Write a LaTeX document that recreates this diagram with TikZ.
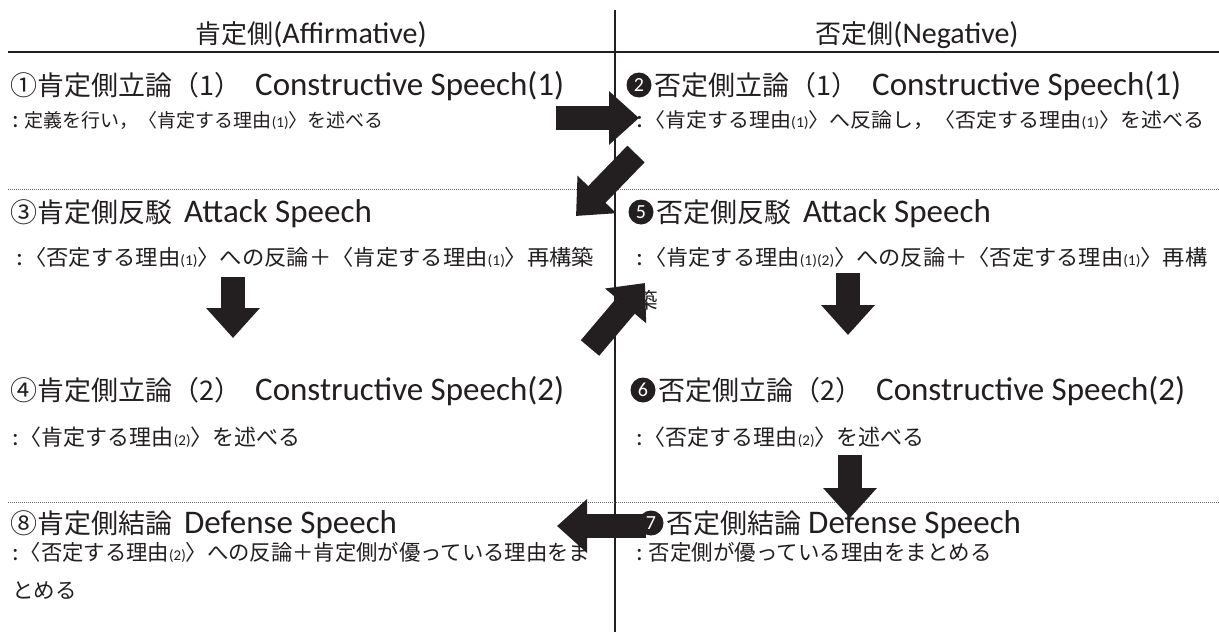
\documentclass[tikz,border=0pt]{standalone}
\usepackage{fontspec}
\setmainfont{Carlito}
\newfontfamily\jpfont{Noto Sans CJK JP}
\newfontfamily\latfont{Carlito}
\usetikzlibrary{arrows.meta}
\definecolor{ink}{HTML}{231F20}
\newcommand\jtext[2]{{\jpfont\fontsize{#1}{#1}\selectfont #2}}
\newcommand\ltext[2]{{\latfont\fontsize{#1}{#1}\selectfont #2}}
\newcommand\ttl[2]{\jtext{27}{#1}\hspace{14pt}\ltext{33}{#2}}
\newcommand\sm[1]{\ltext{15}{#1}}
\newcommand\cln{\ltext{25}{:}\hspace{1pt}}
\newcommand\fitw[2]{\resizebox{#1}{\height}{#2}}
\begin{document}
\begin{tikzpicture}[x=1pt,y=-1pt,
  txt/.style={anchor=base west, inner sep=0pt, text=ink},
  hdr/.style={anchor=base, inner sep=0pt, text=ink},
  numc/.style={circle, fill=ink, text=white, minimum size=25pt, inner sep=0pt, font=\latfont\fontsize{20}{20}\selectfont},
  blk/.style={draw=ink, line width=24pt, -{Triangle[width=52pt,length=30pt]}},
  rule/.style={draw=ink, line width=1.4pt},
  dots/.style={draw=black!60, line width=1pt, dash pattern=on 1pt off 1pt}]
\useasboundingbox (0,0) rectangle (1219,632);
\fill[white] (0,0) rectangle (1219,632);

% rules
\coordinate (vtop) at (615,10);
\coordinate (vbot) at (615,632);
\coordinate (hl) at (8,52);
\coordinate (hr) at (1219,52);
\coordinate (d1l) at (8,189);
\coordinate (d1r) at (1219,189);
\coordinate (d2l) at (8,502);
\coordinate (d2r) at (1219,502);
\draw[rule] (hl) -- (hr);
\draw[rule] (vtop) -- (vbot);
\draw[dots] (d1l) -- (d1r);
\draw[dots] (d2l) -- (d2r);

% headers
\node[hdr] (hA) at (311,43) {\jtext{26}{肯定側}\ltext{30}{(Affirmative)}};
\node[hdr] (hN) at (917,43) {\jtext{26}{否定側}\ltext{30}{(Negative)}};

% left column
\node[txt] (t1) at (10,95) {\ttl{①肯定側立論（1）}{Constructive Speech(1)}};
\node[txt] (s1) at (12,127) {\jtext{19}{\cln\hspace{5pt}定義を行い，〈肯定する理由\sm{(1)}〉を述べる}};
\node[txt] (t3) at (10,222) {\jtext{27}{③肯定側反駁}\hspace{12pt}\ltext{33}{Attack Speech}};
\node[txt] (s3) at (16,265) {\fitw{578pt}{\jtext{21.5}{\cln〈否定する理由\sm{(1)}〉への反論＋〈肯定する理由\sm{(1)}〉再構築}}};
\node[txt] (t4) at (10,400) {\ttl{④肯定側立論（2）}{Constructive Speech(2)}};
\node[txt] (s4) at (12,445) {\jtext{22}{\cln〈肯定する理由\sm{(2)}〉を述べる}};
\node[txt] (t8) at (10,533) {\jtext{27}{⑧肯定側結論}\hspace{12pt}\ltext{33}{Defense Speech}};
\node[txt] (s8) at (12,560) {\fitw{578pt}{\jtext{21.5}{\cln〈否定する理由\sm{(2)}〉への反論＋肯定側が優っている理由をま}}};
\node[txt] (s8b) at (12,598) {\jtext{21.5}{とめる}};

% right column
\node[txt] (t2) at (654,95) {\ttl{否定側立論（1）}{Constructive Speech(1)}};
\node[txt] (s2) at (636,127) {\fitw{568pt}{\jtext{20}{\cln〈肯定する理由\sm{(1)}〉へ反論し，〈否定する理由\sm{(1)}〉を述べる}}};
\node[txt] (t5) at (656,222) {\jtext{27}{否定側反駁}\hspace{12pt}\ltext{33}{Attack Speech}};
\node[txt] (s5) at (636,265) {\fitw{571pt}{\jtext{21.5}{\cln〈肯定する理由\sm{(1)(2)}〉への反論＋〈否定する理由\sm{(1)}〉再構}}};
\node[txt] (s5b) at (636,308) {\jtext{21.5}{築}};
\node[txt] (t6) at (658,400) {\ttl{否定側立論（2）}{Constructive Speech(2)}};
\node[txt] (s6) at (636,445) {\jtext{22}{\cln〈否定する理由\sm{(2)}〉を述べる}};
\node[txt] (t7) at (666,533) {\jtext{27}{否定側結論}\hspace{7pt}\ltext{33}{Defense Speech}};
\node[txt] (s7) at (636,560) {\jtext{21.5}{\cln\hspace{5pt}否定側が優っている理由をまとめる}};

% arrow end points
\coordinate (a12s) at (556,118);
\coordinate (a12e) at (639,118);
\coordinate (a23s) at (636,154);
\coordinate (a23e) at (576,216);
\coordinate (a34s) at (233,277);
\coordinate (a34e) at (233,338);
\coordinate (a45s) at (590,348);
\coordinate (a45e) at (645,283);
\coordinate (a56s) at (848,273);
\coordinate (a56e) at (848,335);
\coordinate (a67s) at (850,455);
\coordinate (a67e) at (850,518);
\coordinate (a78s) at (646,526);
\coordinate (a78e) at (557,526);

\draw[blk] (a12s) -- (a12e);
\draw[blk] (a23s) -- (a23e);
\draw[blk] (a34s) -- (a34e);
\draw[blk] (a45s) -- (a45e);
\draw[blk] (a56s) -- (a56e);
\draw[blk] (a67s) -- (a67e);
\draw[blk] (a78s) -- (a78e);

% black circled numbers
\node[numc] (c2) at (639,85) {2};
\node[numc] (c5) at (641,212) {5};
\node[numc] (c6) at (643,390) {6};
\node[numc] (c7) at (651,523) {7};
\end{tikzpicture}
\end{document}
